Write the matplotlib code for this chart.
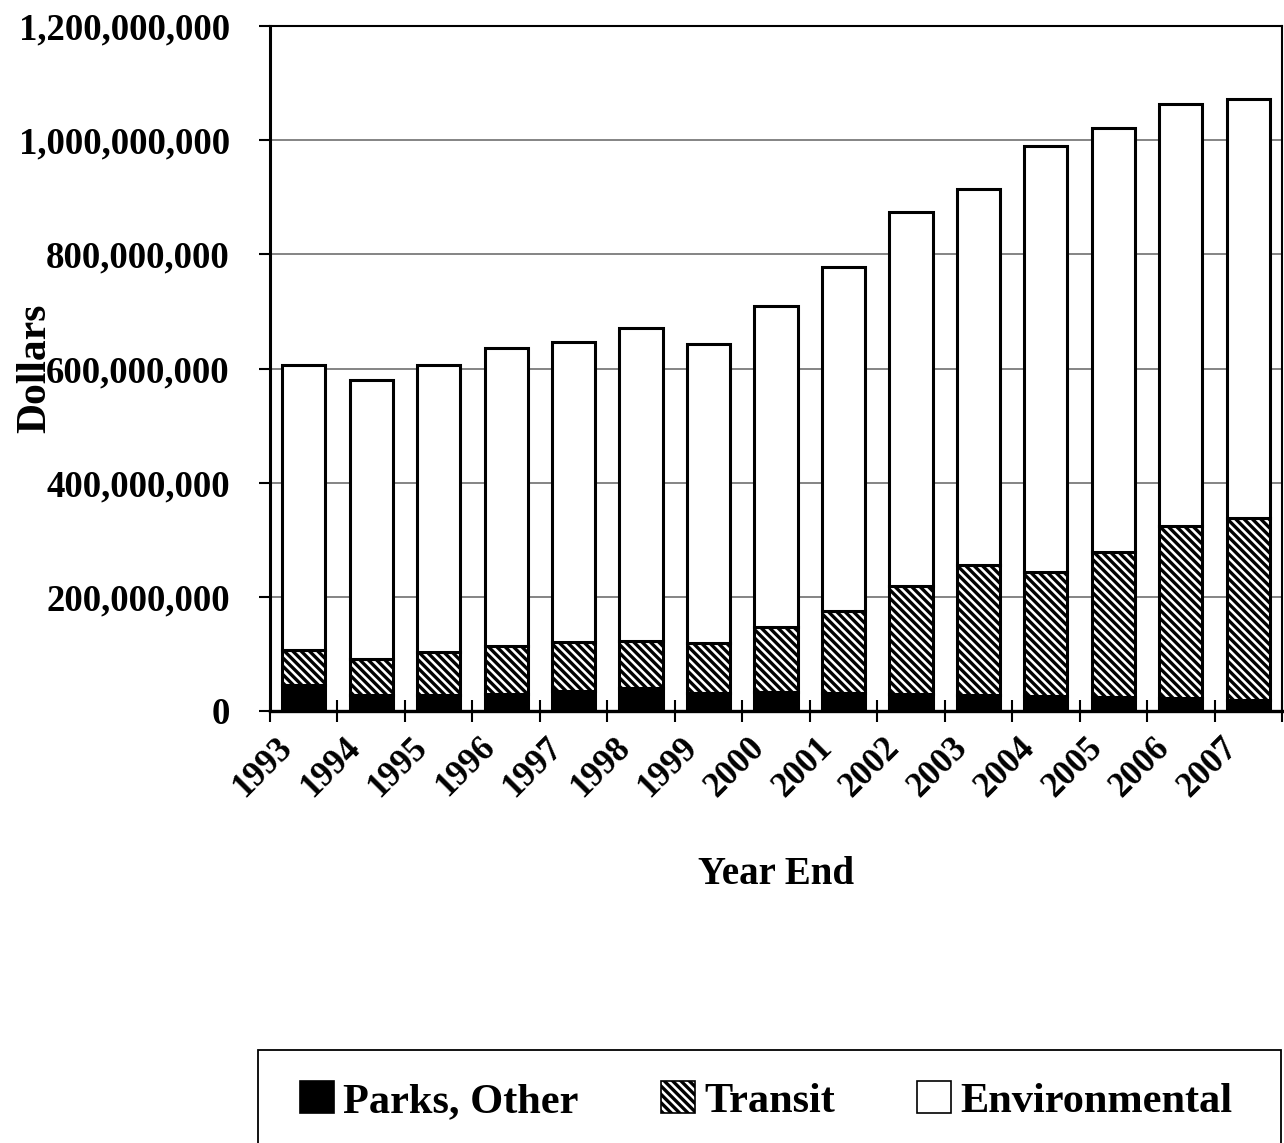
import numpy as np
import matplotlib
matplotlib.use("Agg")
import matplotlib.pyplot as plt
from matplotlib.patches import Rectangle, Patch
from matplotlib.ticker import FuncFormatter

# Dedicated fund balances by year end (dollars)
years = ["1993", "1994", "1995", "1996", "1997", "1998", "1999", "2000",
         "2001", "2002", "2003", "2004", "2005", "2006", "2007"]
parks_other = np.array([45, 28, 28, 30, 35, 40, 31, 34, 31, 29, 28, 26, 24, 22, 19]) * 1e6
transit = np.array([62, 63, 76, 83, 86, 83, 88, 114, 144, 190, 227, 218, 255, 302, 319]) * 1e6
environmental = np.array([499, 489, 503, 523, 526, 548, 524, 561, 603, 656, 659, 745, 743, 739, 734]) * 1e6

plt.rcParams["font.family"] = ["Liberation Serif", "DejaVu Serif"]
plt.rcParams["font.weight"] = "bold"
plt.rcParams["hatch.linewidth"] = 2.4

HATCH = "\\" * 4

fig = plt.figure(figsize=(12.84, 11.43), dpi=100)
ax = fig.add_axes([270 / 1284, 432 / 1143, 1012 / 1284, 685 / 1143])

x = np.arange(len(years))
w = 0.64
edge = dict(edgecolor="black", linewidth=2.2)
ax.bar(x, parks_other, w, color="black", **edge)
ax.bar(x, transit, w, bottom=parks_other, color="white", hatch=HATCH, **edge)
ax.bar(x, environmental, w, bottom=parks_other + transit, color="white", **edge)

ax.set_xlim(-0.5, len(years) - 0.5)
ax.set_ylim(0, 1.2e9)
ax.set_yticks(np.arange(0, 1.2e9 + 1, 2e8))
ax.yaxis.set_major_formatter(FuncFormatter(lambda v, p: f"{v:,.0f}"))
ax.yaxis.grid(True, color="#707070", linewidth=1.2)
ax.set_axisbelow(True)

# category boundary ticks on x; rotated labels end just left of each centre
ax.set_xticks(np.arange(len(years) + 1) - 0.5)
ax.set_xticklabels([])
ax.set_xticks(x - 0.15, minor=True)
ax.set_xticklabels(years, minor=True, rotation=45, ha="right", va="baseline",
                   rotation_mode="anchor", fontsize=25, fontweight="bold")
ax.tick_params(axis="x", which="minor", length=0, pad=27)
ax.tick_params(axis="x", which="major", direction="inout", length=16, width=1.5)
ax.tick_params(axis="y", direction="out", length=8, width=1.5, pad=21, labelsize=26.5)

for side, lw in [("left", 2.2), ("bottom", 2.4), ("top", 1.5), ("right", 1.5)]:
    ax.spines[side].set_linewidth(lw)
    ax.spines[side].set_color("black")

ax.set_ylabel("Dollars", fontsize=30, fontweight="bold")
ax.yaxis.set_label_coords(-0.2134, 0.5)
ax.set_xlabel("Year End", fontsize=28, fontweight="bold")
ax.xaxis.set_label_coords(0.5, -0.212)

# legend box running off the lower edge of the page
fig.add_artist(Rectangle((258 / 1284, -0.02), (1281 - 258) / 1284, 0.02 + 93 / 1143,
                         transform=fig.transFigure, fill=False,
                         edgecolor="black", linewidth=1.3, clip_on=False))
handles = [Patch(facecolor="black", edgecolor="black", linewidth=1.2),
           Patch(facecolor="white", edgecolor="black", hatch=HATCH, linewidth=1.2),
           Patch(facecolor="white", edgecolor="black", linewidth=1.2)]
fig.legend(handles, ["Parks, Other", "Transit", "Environmental"],
           loc="center left", bbox_to_anchor=(300 / 1284, 1 - 1101 / 1143),
           ncol=3, frameon=False, fontsize=30.5, handlelength=0.8,
           handleheight=0.8, handletextpad=0.22, columnspacing=1.94,
           borderpad=0, borderaxespad=0)

fig.savefig("out.png", dpi=100, facecolor="white")
